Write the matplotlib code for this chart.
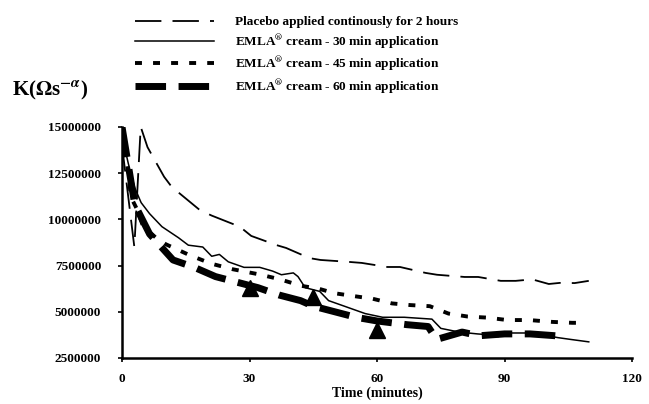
import matplotlib
matplotlib.use("Agg")
import matplotlib.pyplot as plt
from matplotlib.ticker import FixedLocator, FuncFormatter

# time (minutes) and K values (ohm s^-alpha)
placebo_t = [0, 2.9, 4.4, 6.0, 9.9, 11.7, 18.3, 21.1, 27.7, 30.4, 36.4, 38.6, 44.1, 46.7,
             53.1, 56.4, 62.4, 65.4, 71.4, 74.1, 80.6, 83.8, 89.1, 92.6, 96.5, 100.4, 103.0, 106.5, 109.8]
placebo_k = [14.0, 8.5, 15.0, 13.9, 12.3, 11.75, 10.5, 10.2, 9.6, 9.1, 8.6, 8.45, 7.9, 7.8,
             7.7, 7.64, 7.42, 7.42, 7.1, 7.0, 6.88, 6.88, 6.67, 6.67, 6.75, 6.5, 6.56, 6.55, 6.67]

emla30_t = [0, 1.5, 3.0, 4.5, 6.5, 9.4, 13.3, 15.6, 19.0, 21.1, 22.9, 25.0, 28.7, 32.4, 35.4,
            37.5, 40.3, 41.4, 43.1, 46.5, 48.6, 52.3, 57.2, 61.3, 66.4, 72.9, 75.0, 79.3, 83.6,
            86.4, 88.5, 90.3, 96.8, 102.5, 105.6, 109.8]
emla30_k = [14.5, 13.0, 11.7, 10.9, 10.3, 9.6, 9.0, 8.6, 8.5, 8.0, 8.1, 7.7, 7.4, 7.4, 7.2,
            7.0, 7.1, 6.9, 6.3, 6.1, 5.6, 5.3, 4.9, 4.7, 4.7, 4.6, 4.1, 3.9, 3.8,
            3.75, 3.65, 3.85, 3.85, 3.6, 3.5, 3.37]

emla45_t = [0, 1.5, 2.1, 3.4, 5.0, 8.0, 10.3, 16.0, 21.0, 26.0, 32.7, 37.2, 42.2, 46.2, 50.0,
            54.4, 59.0, 63.5, 67.8, 72.4, 76.8, 81.3, 86.0, 90.6, 95.8, 101.2, 105.9, 108.5]
emla45_k = [14.8, 12.5, 11.2, 10.6, 9.6, 9.0, 8.65, 8.05, 7.6, 7.3, 7.0, 6.75, 6.4, 6.25, 6.0,
            5.85, 5.7, 5.45, 5.36, 5.3, 4.9, 4.74, 4.68, 4.55, 4.55, 4.45, 4.4, 4.4]

emla60_t = [0, 3.0, 6.5, 12.0, 17.0, 22.0, 27.0, 32.0, 37.0, 42.0, 45.0, 50.0, 55.0, 60.0,
            67.0, 72.0, 74.0, 80.0, 84.0, 90.0, 96.0, 102.0]
emla60_k = [15.0, 10.8, 9.2, 7.8, 7.4, 6.9, 6.6, 6.3, 5.9, 5.6, 5.3, 5.0, 4.7, 4.5,
            4.3, 4.2, 3.5, 3.9, 3.7, 3.8, 3.8, 3.7]

# end of application markers
tri_t = [30, 45, 60]
tri_k = [6.3, 5.8, 4.0]

xticks = [0, 30, 60, 90, 120]
yticks = [2500000, 5000000, 7500000, 10000000, 12500000, 15000000]

plt.rcParams["font.family"] = ["Liberation Serif", "DejaVu Serif"]
plt.rcParams["font.weight"] = "bold"
plt.rcParams["mathtext.fontset"] = "stix"
plt.rcParams["lines.scale_dashes"] = False

fig = plt.figure(figsize=(6.49, 4.04), dpi=100)
ax = fig.add_axes([0.188, 0.114, 0.786, 0.572])

M = 1e6
l1, = ax.plot(placebo_t, [v * M for v in placebo_k], color="k", lw=1.3, dashes=(19, 8),
              label="Placebo applied continously for 2 hours")
l2, = ax.plot(emla30_t, [v * M for v in emla30_k], color="k", lw=1.1,
              label=r"EMLA$^{\circledR}$ cream - 30 min application")
l3, = ax.plot(emla45_t, [v * M for v in emla45_k], color="k", lw=2.8, dashes=(5, 8),
              label=r"EMLA$^{\circledR}$ cream - 45 min application")
l4, = ax.plot(emla60_t, [v * M for v in emla60_k], color="k", lw=5, dashes=(22, 9),
              label=r"EMLA$^{\circledR}$ cream - 60 min application")
ax.plot(tri_t, [v * M for v in tri_k], "^", color="k", ms=12, ls="none")

ax.set_xlim(0, 120)
ax.set_ylim(2500000, 15000000)
ax.xaxis.set_major_locator(FixedLocator(xticks))
ax.yaxis.set_major_locator(FixedLocator(yticks))
ax.yaxis.set_major_formatter(FuncFormatter(lambda v, p: "%d" % v))
ax.tick_params(axis="y", labelsize=9.5, length=3, width=1.2, pad=12)
ax.tick_params(axis="x", labelsize=9.5, length=3, width=1.2, pad=8)
ax.spines["top"].set_visible(False)
ax.spines["right"].set_visible(False)
ax.spines["left"].set_linewidth(1.8)
ax.spines["bottom"].set_linewidth(1.8)
ax.set_xlabel("Time (minutes)", fontsize=10, fontweight="bold", labelpad=1)

fig.text(12 / 649, 1 - 90 / 404, r"K($\Omega$s$^{-\alpha}$)", fontsize=15,
         fontweight="bold", va="center", ha="left")

fig.legend(handles=[l1, l2, l3, l4], loc="upper left", bbox_to_anchor=(0.19, 0.99),
           frameon=False, fontsize=9.5, handlelength=6.0, handletextpad=1.6,
           labelspacing=0.28)

fig.savefig("out.png", dpi=100)
